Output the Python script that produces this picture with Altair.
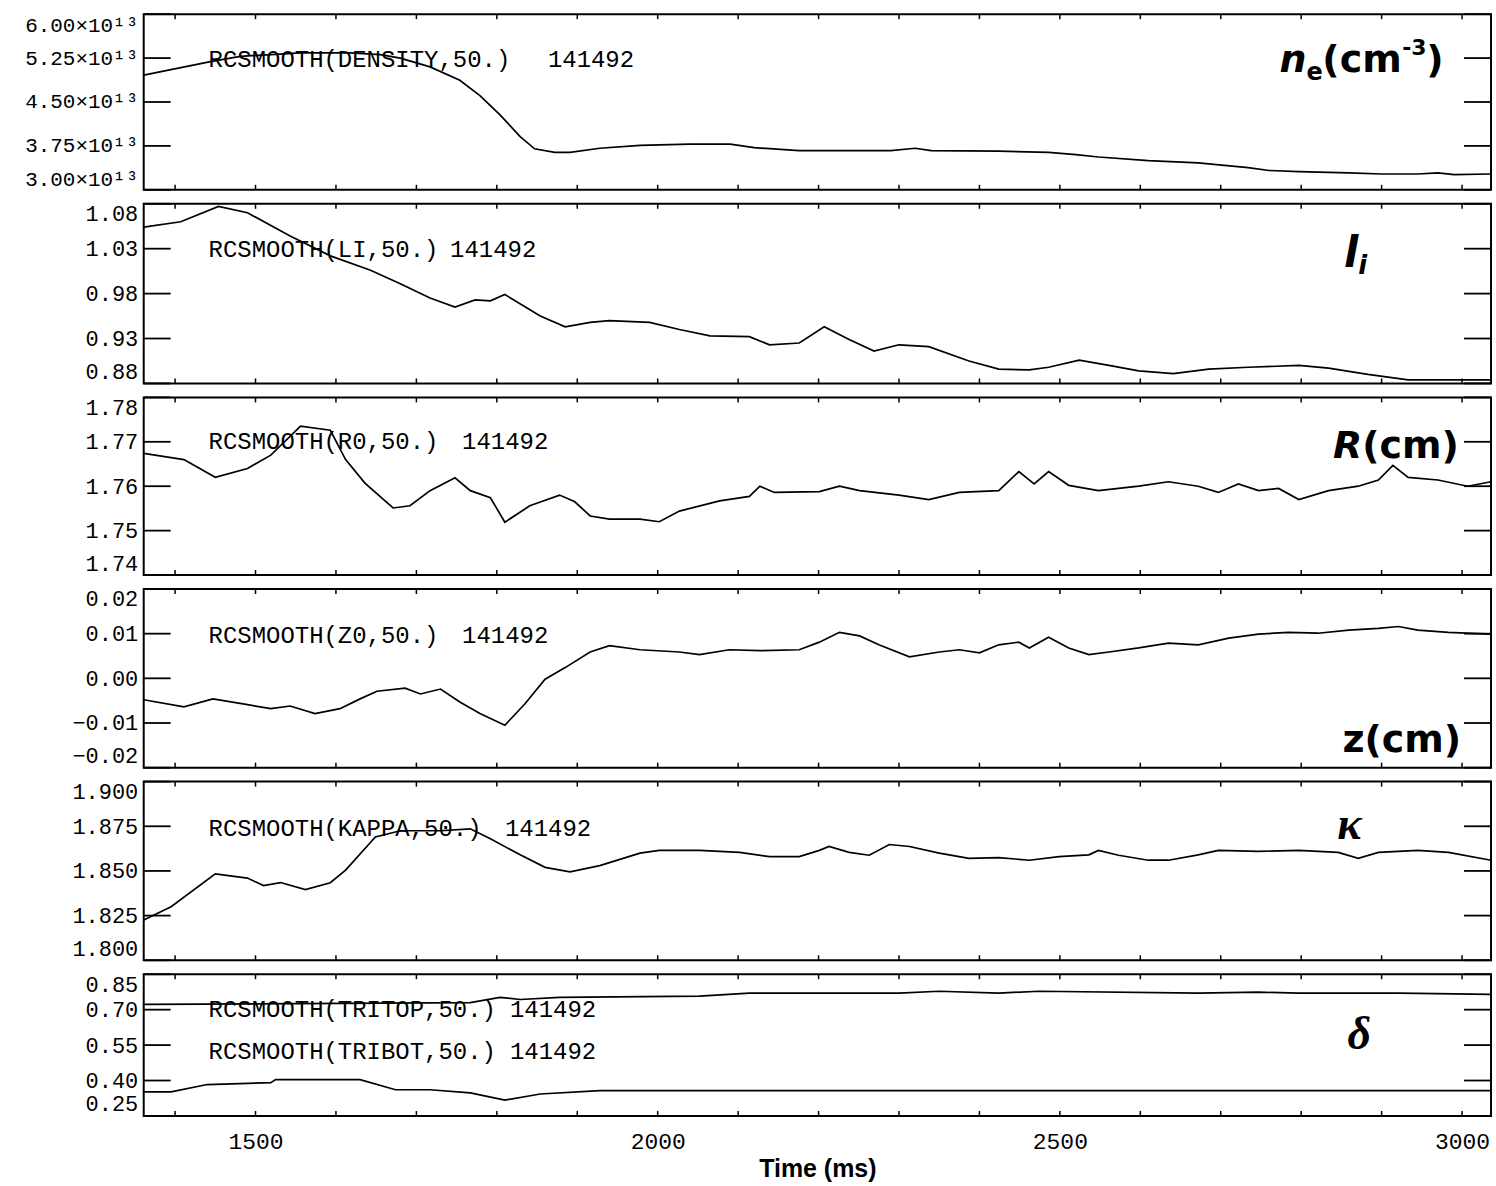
import altair as alt
import pandas as pd

SHOT = "141492"

# Time axis (ms)
X_DOMAIN = [1361, 3036]
X_MINOR = list(range(1400, 3001, 100))
X_LABELS = [1500, 2000, 2500, 3000]

# Line-averaged density, units of 1e13 cm^-3
ne_t = [1361, 1401, 1444, 1481, 1520, 1556, 1618, 1655, 1680, 1717, 1754, 1779,
        1804, 1829, 1847, 1872, 1891, 1928, 1978, 2040, 2090, 2120, 2176, 2290,
        2320, 2340, 2424, 2486, 2520, 2548, 2610, 2672, 2734, 2760, 2797, 2859,
        2900, 2945, 2970, 2990, 3036]
ne_v = [4.96, 5.07, 5.19, 5.28, 5.31, 5.34, 5.34, 5.31, 5.25, 5.10, 4.87, 4.61,
        4.28, 3.91, 3.70, 3.64, 3.64, 3.71, 3.76, 3.78, 3.78, 3.72, 3.67, 3.67,
        3.71, 3.67, 3.66, 3.64, 3.60, 3.56, 3.50, 3.46, 3.38, 3.33, 3.31, 3.29,
        3.27, 3.27, 3.29, 3.26, 3.27]

# Internal inductance
li_t = [1361, 1407, 1454, 1490, 1543, 1593, 1643, 1680, 1717, 1748, 1773, 1792,
        1810, 1854, 1885, 1916, 1940, 1990, 2027, 2065, 2114, 2139, 2176, 2207,
        2238, 2269, 2300, 2337, 2387, 2424, 2462, 2486, 2524, 2561, 2598, 2641,
        2685, 2734, 2797, 2834, 2883, 2933, 3036]
li_v = [1.054, 1.060, 1.077, 1.070, 1.044, 1.022, 1.006, 0.991, 0.975, 0.965,
        0.973, 0.972, 0.979, 0.955, 0.943, 0.948, 0.950, 0.948, 0.940, 0.933,
        0.932, 0.923, 0.925, 0.943, 0.929, 0.916, 0.923, 0.921, 0.905, 0.896,
        0.895, 0.898, 0.906, 0.900, 0.894, 0.891, 0.896, 0.898, 0.900, 0.897,
        0.890, 0.884, 0.884]

# Major radius
r0_t = [1361, 1411, 1450, 1490, 1519, 1556, 1593, 1612, 1636, 1671, 1692, 1717,
        1748, 1767, 1792, 1810, 1841, 1878, 1897, 1916, 1940, 1978, 2002, 2027,
        2077, 2114, 2127, 2145, 2201, 2226, 2251, 2300, 2337, 2375, 2424, 2449,
        2468, 2486, 2511, 2548, 2598, 2635, 2672, 2697, 2722, 2747, 2772, 2797,
        2834, 2871, 2896, 2914, 2933, 2970, 3007, 3036]
r0_v = [1.7674, 1.7660, 1.7620, 1.7640, 1.7670, 1.7735, 1.7726, 1.7660, 1.7607,
        1.7551, 1.7556, 1.7590, 1.7619, 1.7590, 1.7574, 1.7519, 1.7556, 1.7580,
        1.7565, 1.7533, 1.7526, 1.7526, 1.7520, 1.7544, 1.7567, 1.7577, 1.7600,
        1.7586, 1.7588, 1.7600, 1.7590, 1.7580, 1.7570, 1.7586, 1.7590, 1.7633,
        1.7605, 1.7633, 1.7602, 1.7590, 1.7600, 1.7610, 1.7600, 1.7586, 1.7605,
        1.7590, 1.7595, 1.7570, 1.7590, 1.7600, 1.7614, 1.7647, 1.7620, 1.7614,
        1.7600, 1.7610]

# Vertical position
z0_t = [1361, 1411, 1447, 1490, 1519, 1543, 1574, 1605, 1630, 1651, 1686, 1705,
        1730, 1754, 1779, 1810, 1835, 1860, 1885, 1916, 1940, 1978, 2027, 2052,
        2089, 2127, 2176, 2201, 2226, 2251, 2275, 2313, 2350, 2375, 2400, 2424,
        2449, 2462, 2486, 2511, 2536, 2561, 2598, 2635, 2672, 2710, 2747, 2784,
        2821, 2859, 2896, 2921, 2945, 2983, 3036]
z0_v = [-0.0048, -0.0064, -0.0046, -0.0059, -0.0068, -0.0062, -0.0079, -0.0068,
        -0.0046, -0.0029, -0.0022, -0.0035, -0.0024, -0.0053, -0.0079, -0.0105,
        -0.0057, -0.0002, 0.0024, 0.0059, 0.0073, 0.0064, 0.0059, 0.0053, 0.0064,
        0.0062, 0.0064, 0.0081, 0.0103, 0.0095, 0.0075, 0.0048, 0.0059, 0.0064,
        0.0057, 0.0075, 0.0081, 0.0068, 0.0092, 0.0068, 0.0053, 0.0059, 0.0068,
        0.0079, 0.0075, 0.0090, 0.0099, 0.0103, 0.0101, 0.0108, 0.0112, 0.0116,
        0.0108, 0.0103, 0.0099]

# Elongation
kap_t = [1361, 1395, 1450, 1490, 1510, 1531, 1562, 1593, 1612, 1649, 1680, 1730,
         1767, 1792, 1829, 1860, 1891, 1928, 1978, 2002, 2052, 2102, 2139, 2176,
         2201, 2213, 2238, 2263, 2288, 2313, 2350, 2387, 2424, 2462, 2499, 2536,
         2548, 2573, 2610, 2635, 2672, 2697, 2747, 2797, 2846, 2871, 2896, 2945,
         2983, 3036]
kap_v = [1.8225, 1.8300, 1.8484, 1.8460, 1.8418, 1.8435, 1.8396, 1.8434, 1.8505,
         1.8690, 1.8725, 1.8725, 1.8736, 1.8680, 1.8590, 1.8520, 1.8495, 1.8530,
         1.8600, 1.8615, 1.8615, 1.8604, 1.8580, 1.8580, 1.8615, 1.8637, 1.8604,
         1.8588, 1.8648, 1.8637, 1.8600, 1.8570, 1.8575, 1.8560, 1.8580, 1.8590,
         1.8615, 1.8588, 1.8560, 1.8560, 1.8590, 1.8615, 1.8610, 1.8615, 1.8604,
         1.8570, 1.8604, 1.8615, 1.8604, 1.8560]

# Upper and lower triangularity
tritop_t = [1361, 1767, 1804, 1829, 1878, 2052, 2114, 2300, 2350, 2424, 2474,
            2672, 2747, 2797, 2921, 3036]
tritop_v = [0.722, 0.730, 0.752, 0.743, 0.752, 0.757, 0.770, 0.770, 0.778, 0.770,
            0.778, 0.770, 0.774, 0.770, 0.770, 0.765]
tribot_t = [1361, 1395, 1440, 1519, 1525, 1630, 1674, 1717, 1767, 1810, 1854,
            1928, 3036]
tribot_v = [0.352, 0.352, 0.383, 0.391, 0.404, 0.404, 0.361, 0.361, 0.348, 0.317,
            0.343, 0.357, 0.357]

# Y tick values for each panel
ne_ticks = [3.00, 3.75, 4.50, 5.25, 6.00]
li_ticks = [0.88, 0.93, 0.98, 1.03, 1.08]
r0_ticks = [1.74, 1.75, 1.76, 1.77, 1.78]
z0_ticks = [-0.02, -0.01, 0.00, 0.01, 0.02]
kap_ticks = [1.800, 1.825, 1.850, 1.875, 1.900]
tri_ticks = [0.25, 0.40, 0.55, 0.70, 0.85]

PLOT_W = 1350
MONO = "Liberation Mono"
SANS_B = "DejaVu Sans"
SERIF = "Liberation Serif"
INK = "#000000"
TICK_LEN = 27


def text_layer(label, x, y, size, font=MONO, weight="normal", style="normal",
               align="left", baseline="middle"):
    return alt.Chart(pd.DataFrame({"label": [label]})).mark_text(
        align=align, baseline=baseline, font=font, fontSize=size,
        fontWeight=weight, fontStyle=style, color=INK,
    ).encode(x=alt.value(x), y=alt.value(y), text="label:N")


def panel(series, domain, ticks, height, notes, tags, label_size=22,
          label_fmt=".2f", label_expr=None, bottom=False):
    xs = alt.Scale(domain=X_DOMAIN, nice=False, zero=False)
    if bottom:
        x_enc = alt.X("t:Q", scale=xs, title="Time (ms)", axis=alt.Axis(
            values=X_LABELS, format="d", labelFont=MONO, labelFontSize=23,
            labelPadding=15, ticks=False, domain=False, grid=False,
            labelFlush=False, titleFont="Liberation Sans", titleFontSize=25,
            titleFontWeight="bold", titlePadding=3, titleColor=INK,
            labelColor=INK))
    else:
        x_enc = alt.X("t:Q", scale=xs, axis=None)

    axis_kw = dict(values=ticks, labelFont=MONO, labelFontSize=label_size,
                   labelPadding=6, labelFlush=True, minExtent=135, maxExtent=135,
                   ticks=False, domain=False, grid=False, labelColor=INK)
    if label_expr:
        axis_kw["labelExpr"] = label_expr
    else:
        axis_kw["format"] = label_fmt
    y_enc = alt.Y("v:Q", title=None,
                  scale=alt.Scale(domain=domain, nice=False, zero=False),
                  axis=alt.Axis(**axis_kw))

    rows = []
    for key, (ts, vs) in enumerate(series):
        rows += [{"t": t, "v": v, "s": key} for t, v in zip(ts, vs)]
    lines = alt.Chart(pd.DataFrame(rows)).mark_line(
        color=INK, strokeWidth=1.7, clip=True
    ).encode(x=x_enc, y=y_enc, detail="s:N")

    ytick_df = pd.DataFrame({"v": ticks})
    left_ticks = alt.Chart(ytick_df).mark_rule(color=INK, strokeWidth=1.8).encode(
        y=y_enc, x=alt.value(0), x2=alt.value(TICK_LEN))
    right_ticks = alt.Chart(ytick_df).mark_rule(color=INK, strokeWidth=1.8).encode(
        y=y_enc, x=alt.value(PLOT_W - TICK_LEN), x2=alt.value(PLOT_W))

    xtick_df = pd.DataFrame({"t": X_MINOR})
    top_ticks = alt.Chart(xtick_df).mark_rule(color=INK, strokeWidth=1.5).encode(
        x=x_enc, y=alt.value(0), y2=alt.value(5))
    bot_ticks = alt.Chart(xtick_df).mark_rule(color=INK, strokeWidth=1.5).encode(
        x=x_enc, y=alt.value(height - 5), y2=alt.value(height))

    layers = [lines, left_ticks, right_ticks, top_ticks, bot_ticks]
    for name, y, num_x in notes:
        layers.append(text_layer(name, 65, y, 24))
        layers.append(text_layer(SHOT, num_x, y, 24))
    for tag in tags:
        layers.append(text_layer(**tag))

    return alt.layer(*layers).properties(width=PLOT_W, height=height)


def tag(label, x, y, size=38, font=SANS_B, style="normal", align="left"):
    return dict(label=label, x=x, y=y, size=size, font=font, weight="bold",
                style=style, align=align, baseline="alphabetic")


p1 = panel([(ne_t, ne_v)], [3.0, 6.0], ne_ticks, 176,
           [("RCSMOOTH(DENSITY,50.)", 46, 405)],
           [tag("n", 1165, 58, style="italic", align="right"),
            tag("e", 1165, 66, size=24),
            tag("(cm", 1181, 58),
            tag("-3", 1261, 41, size=22),
            tag(")", 1285, 58)],
           label_size=21,
           label_expr="format(datum.value, '.2f') + '\u00d710\u00b9\u00b3'")

p2 = panel([(li_t, li_v)], [0.88, 1.08], li_ticks, 180,
           [("RCSMOOTH(LI,50.)", 46, 307)],
           [tag("l", 1217, 63, size=42, style="italic", align="right"),
            tag("i", 1217, 70, size=26, style="italic")])

p3 = panel([(r0_t, r0_v)], [1.74, 1.78], r0_ticks, 178,
           [("RCSMOOTH(R0,50.)", 45, 319)],
           [tag("R", 1221, 61, style="italic", align="right"),
            tag("(cm)", 1221, 61)])

p4 = panel([(z0_t, z0_v)], [-0.02, 0.02], z0_ticks, 179,
           [("RCSMOOTH(Z0,50.)", 47, 319)],
           [tag("z(cm)", 1320, 163, align="right")])

p5 = panel([(kap_t, kap_v)], [1.80, 1.90], kap_ticks, 179,
           [("RCSMOOTH(KAPPA,50.)", 47, 362)],
           [tag("\u03ba", 1208, 57, size=46, font=SERIF, style="italic",
                align="center")],
           label_fmt=".3f")

p6 = panel([(tritop_t, tritop_v), (tribot_t, tribot_v)], [0.25, 0.85], tri_ticks, 142,
           [("RCSMOOTH(TRITOP,50.)", 36, 367), ("RCSMOOTH(TRIBOT,50.)", 78, 367)],
           [tag("\u03b4", 1218, 75, size=46, font=SERIF, style="italic",
                align="center")],
           bottom=True)

chart = alt.vconcat(p1, p2, p3, p4, p5, p6, spacing=10).properties(
    padding={"left": 8, "top": 11, "right": 3, "bottom": 0},
    background="white",
).configure_view(stroke=INK, strokeWidth=2)

chart.save("out.html", embed_options={"renderer": "svg", "actions": False})
